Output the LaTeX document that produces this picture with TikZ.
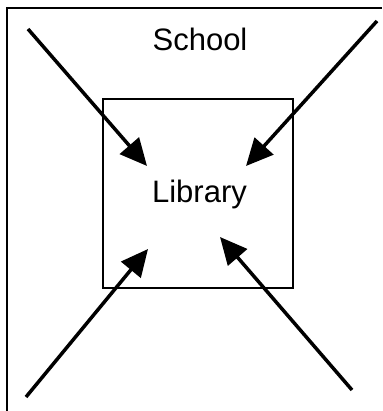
\documentclass[tikz,border=0pt]{standalone}
\usepackage{fontspec}
\setmainfont{Liberation Sans}
\usetikzlibrary{arrows.meta}
\begin{document}
\begin{tikzpicture}[x=1pt,y=-1pt,
  frame/.style={draw=black,line width=2.2pt},
  label/.style={font=\fontsize{31}{37}\selectfont,inner sep=0pt,anchor=base},
  inward/.style={draw=black,line width=3.5pt,-{Triangle[length=27pt,width=25pt]}}]
  \useasboundingbox (0,0) rectangle (382,411);
  % outer school boundary (only top and left sides fall inside the page)
  \draw[frame] (7,411) -- (7,8) -- (382,8);
  \node[label] (school) at (200,51) {School};
  % library box
  \node[frame,minimum width=190pt,minimum height=189pt,inner sep=0pt] (lib) at (198,193.5) {};
  \node[label] (libtext) at (199.5,203) {Library};
  % arrow endpoints
  \coordinate (s1) at (28,29);   \coordinate (t1) at (147,166);
  \coordinate (s2) at (377,21);  \coordinate (t2) at (246,166);
  \coordinate (s3) at (26,397);  \coordinate (t3) at (148,249);
  \coordinate (s4) at (352,390); \coordinate (t4) at (220,237);
  \draw[inward] (s1) -- (t1);
  \draw[inward] (s2) -- (t2);
  \draw[inward] (s3) -- (t3);
  \draw[inward] (s4) -- (t4);
\end{tikzpicture}
\end{document}
